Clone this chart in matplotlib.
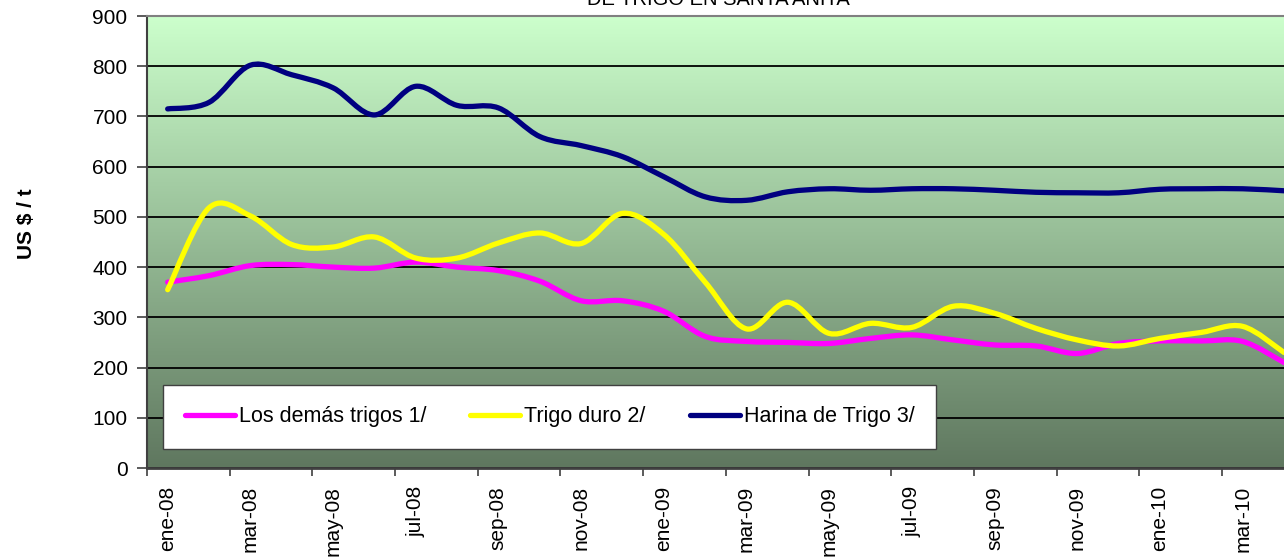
import numpy as np
import matplotlib.pyplot as plt
from matplotlib.path import Path
from matplotlib.patches import PathPatch
from matplotlib.lines import Line2D
from matplotlib.colors import LinearSegmentedColormap

plt.rcParams['font.family'] = ['Liberation Sans', 'DejaVu Sans']

# meses (ene-08 .. abr-10)
meses = ['ene-08', 'feb-08', 'mar-08', 'abr-08', 'may-08', 'jun-08', 'jul-08',
         'ago-08', 'sep-08', 'oct-08', 'nov-08', 'dic-08', 'ene-09', 'feb-09',
         'mar-09', 'abr-09', 'may-09', 'jun-09', 'jul-09', 'ago-09', 'sep-09',
         'oct-09', 'nov-09', 'dic-09', 'ene-10', 'feb-10', 'mar-10', 'abr-10']

los_demas = [370, 383, 403, 405, 400, 398, 410, 400, 393, 372, 333, 333, 312, 262,
             252, 250, 248, 258, 265, 255, 245, 243, 228, 248, 253, 253, 252, 210]
trigo_duro = [355, 518, 502, 445, 440, 460, 418, 418, 448, 468, 447, 507, 465, 370,
              277, 330, 268, 288, 280, 322, 308, 278, 255, 243, 258, 270, 282, 230]
harina = [715, 728, 802, 783, 757, 703, 760, 722, 717, 660, 642, 620, 580, 540,
          533, 550, 556, 553, 556, 556, 553, 549, 548, 548, 555, 556, 556, 552]

series = [("Los demás trigos 1/", los_demas, '#FF00FF'),
          ("Trigo duro 2/", trigo_duro, '#FFFF00'),
          ("Harina de Trigo 3/", harina, '#000080')]


def curva(x, y):
    # suavizado tipo Excel (bezier cubica, catmull-rom)
    pts = np.column_stack([x, y]).astype(float)
    p = np.vstack([pts[0], pts, pts[-1]])
    verts = [pts[0]]
    codes = [Path.MOVETO]
    for i in range(1, len(p) - 2):
        c1 = p[i] + (p[i + 1] - p[i - 1]) / 6
        c2 = p[i + 1] - (p[i + 2] - p[i]) / 6
        verts += [c1, c2, p[i + 1]]
        codes += [Path.CURVE4] * 3
    return Path(verts, codes)


fig = plt.figure(figsize=(12.84, 5.58), dpi=100)
ax = fig.add_axes([147 / 1284, 90 / 558, 1137 / 1284, 452 / 558])

x = np.arange(len(meses))
x0, x1 = -0.5, len(meses) - 1

# fondo degradado
cmap = LinearSegmentedColormap.from_list('verde', ['#5F775F', '#CCFFCC'])
grad = np.linspace(0, 1, 256).reshape(-1, 1)
ax.imshow(grad, extent=(x0, x1, 0, 900), origin='lower', aspect='auto',
          cmap=cmap, zorder=0)

handles = []
for nombre, valores, color in series:
    ax.add_patch(PathPatch(curva(x, valores), fill=False, edgecolor=color,
                           lw=3.8, capstyle='round', joinstyle='round', zorder=3))
    handles.append(Line2D([], [], color=color, lw=3.8, solid_capstyle='round'))

ax.set_xlim(x0, x1)
ax.set_ylim(0, 900)
ax.set_yticks(range(0, 1000, 100))
ax.set_axisbelow(True)
ax.yaxis.grid(True, color='black', lw=1.3)

ax.set_xticks(np.arange(-0.5, x1, 2))
ax.set_xticklabels([])
ax.set_xticks(x[::2], minor=True)
ax.set_xticklabels(meses[::2], minor=True, rotation=90, va='top', ha='center')
ax.tick_params(axis='x', which='major', length=6, width=1.2, color='#404040')
ax.tick_params(axis='x', which='minor', length=0, pad=13, labelsize=15)
ax.tick_params(axis='y', length=7, width=1.2, color='#404040', pad=7, labelsize=15)

ax.spines['right'].set_visible(False)
ax.spines['top'].set_color('#808080')
ax.spines['top'].set_linewidth(1.5)
ax.spines['left'].set_color('#404040')
ax.spines['left'].set_linewidth(1.5)
ax.spines['bottom'].set_color('#404040')
ax.spines['bottom'].set_linewidth(2)

leg = ax.legend(handles, [s[0] for s in series], ncol=3, loc='lower left',
                bbox_to_anchor=(16 / 1137, 19 / 452), borderaxespad=0,
                fontsize=15.5, handlelength=2.33, handletextpad=0.18,
                columnspacing=2.05, borderpad=1.0, fancybox=False,
                framealpha=1, edgecolor='#404040')
leg.get_frame().set_linewidth(1.0)

fig.text(27 / 1284, 1 - 224 / 558, 'US $ / t', rotation=90, fontweight='bold',
         fontsize=15, ha='center', va='center')
fig.text(718 / 1284, 1 - 5 / 558, 'DE TRIGO EN SANTA ANITA', ha='center',
         va='baseline', fontsize=14.5)

fig.savefig('out.png', dpi=100, facecolor='white')
